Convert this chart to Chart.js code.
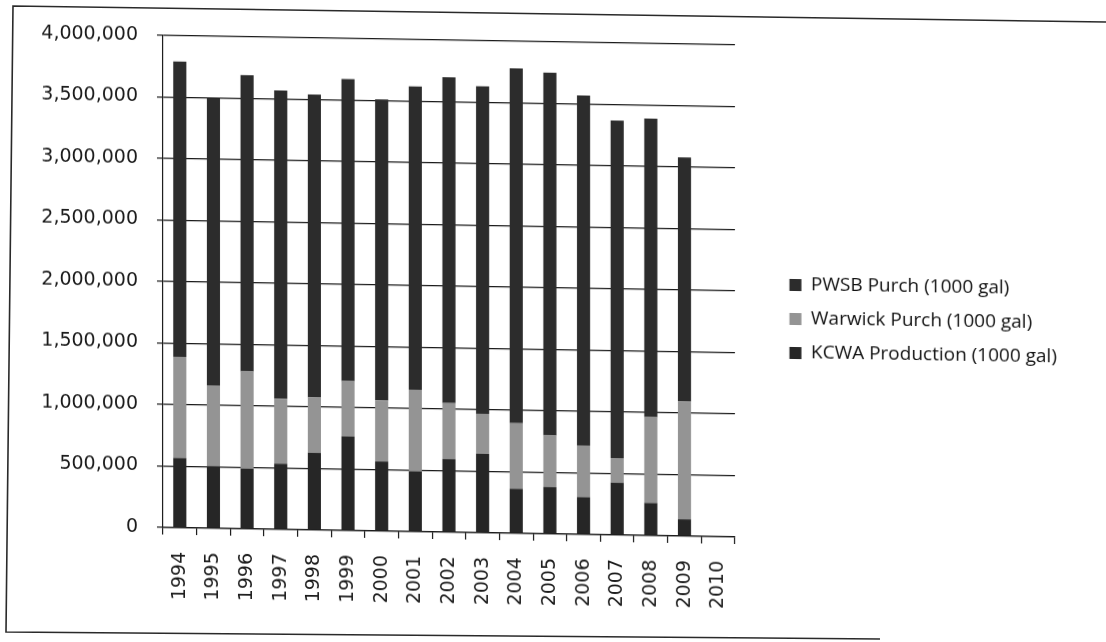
<!DOCTYPE html>
<html>
<head>
<meta charset="utf-8">
<script src="https://cdn.jsdelivr.net/npm/chart.js@4.4.0/dist/chart.umd.min.js"></script>
<style>
  html, body { margin: 0; padding: 0; background: #ffffff; }
  body { width: 1106px; height: 642px; position: relative; overflow: hidden; }
  #wrap { position: absolute; left: 0; top: 0; width: 1106px; height: 642px;
          transform: skewY(0.95deg); transform-origin: 553px 321px; }
  #frame { position: absolute; left: 0; top: 0; pointer-events: none; }
</style>
</head>
<body>
<div id="wrap"><canvas id="c" width="1106" height="642"></canvas></div>
<svg id="frame" width="1106" height="642">
  <polyline points="1106,22 13,6 6,632 880,639" fill="none" stroke="#2a2a2a" stroke-width="1.6"/>
</svg>
<script>
// Categories (years)
const years = ['1994','1995','1996','1997','1998','1999','2000','2001','2002','2003','2004','2005','2006','2007','2008','2009','2010'];
// Series values (1000 gal)
const kcwaProduction = [568, 505, 490, 535, 628, 767, 568, 491, 596, 643, 363, 381, 304, 426, 265, 137, null].map(v => v === null ? null : v * 1000);
const warwickPurch   = [822, 658, 791, 528, 452, 448, 494, 664, 455, 325, 534, 419, 420, 200, 699, 959, null].map(v => v === null ? null : v * 1000);
const pwsbPurch      = [2400, 2337, 2409, 2507, 2460, 2455, 2448, 2465, 2649, 2662, 2883, 2950, 2846, 2744, 2426, 1984, null].map(v => v === null ? null : v * 1000);
// Series names
const seriesNames = ['KCWA Production (1000 gal)', 'Warwick Purch (1000 gal)', 'PWSB Purch (1000 gal)'];
// Y axis ticks
const yMin = 0, yMax = 4000000, yStep = 500000;

function draw() {
  const tickFont = { family: '"DejaVu Sans", sans-serif', size: 19 };
  new Chart(document.getElementById('c'), {
    type: 'bar',
    data: {
      labels: years,
      datasets: [
        { label: seriesNames[0], data: kcwaProduction, backgroundColor: '#262626' },
        { label: seriesNames[1], data: warwickPurch,   backgroundColor: '#949494' },
        { label: seriesNames[2], data: pwsbPurch,      backgroundColor: '#2c2c2c' }
      ]
    },
    options: {
      responsive: false,
      animation: false,
      devicePixelRatio: 1,
      datasets: { bar: { barPercentage: 0.39, categoryPercentage: 1.0 } },
      layout: { padding: { left: 0, top: 18, right: 39, bottom: 30 } },
      plugins: {
        legend: {
          position: 'right',
          reverse: true,
          align: 'center',
          maxWidth: 420,
          labels: {
            boxWidth: 12, boxHeight: 12, padding: 15,
            color: '#111111',
            font: { family: '"Open Sans", sans-serif', size: 19 }
          }
        },
        tooltip: { enabled: false }
      },
      scales: {
        x: {
          stacked: true,
          grid: { display: true, drawOnChartArea: false, drawTicks: true, tickLength: 7, color: '#1a1a1a', lineWidth: 1.2, offset: true },
          border: { display: true, color: '#1a1a1a', width: 1.2 },
          ticks: { autoSkip: false, minRotation: 90, maxRotation: 90, padding: 17, color: '#1a1a1a', font: tickFont },
          afterFit: s => { s.height = 78; }
        },
        topgap: {
          type: 'linear', axis: 'x', position: 'top', display: true,
          grid: { display: false, drawTicks: false },
          border: { display: false },
          ticks: { display: false },
          afterFit: s => { s.height = 24; }
        },
        y: {
          stacked: true,
          min: yMin, max: yMax,
          grid: { color: '#1a1a1a', lineWidth: 1.2, tickLength: 6, drawTicks: true },
          border: { display: true, color: '#1a1a1a', width: 1.2 },
          ticks: { stepSize: yStep, padding: 19, color: '#1a1a1a', font: tickFont,
                   callback: v => Number(v).toLocaleString('en-US') },
          afterFit: s => { s.width = 163; }
        },
        gap: {
          type: 'linear', axis: 'y', position: 'right', display: true,
          grid: { display: false, drawTicks: false },
          border: { display: false },
          ticks: { display: false },
          afterFit: s => { s.width = 39.5; }
        }
      }
    }
  });
}
Promise.all([
  document.fonts.load('19px "Open Sans"'),
  document.fonts.load('19px "DejaVu Sans"')
]).then(draw, draw);
</script>
</body>
</html>
